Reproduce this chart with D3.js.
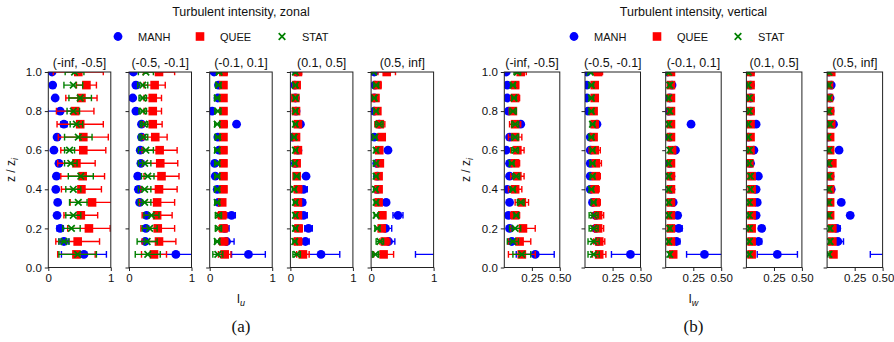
<!DOCTYPE html>
<html>
<head>
<meta charset="utf-8">
<script src="https://cdn.jsdelivr.net/npm/d3@7"></script>
<style>
  body { margin: 0; background: #fff; }
  text { font-family: "Liberation Sans", Arial, sans-serif; fill: #111; }
</style>
</head>
<body>
<div id="chart"></div>
<script>
// heights z/zi, listed top to bottom
var levels = [1.0, 0.933, 0.867, 0.8, 0.733, 0.667, 0.6, 0.533, 0.467, 0.4, 0.333, 0.267, 0.2, 0.133, 0.067];
var bins = ["(-inf, -0.5]", "(-0.5, -0.1]", "(-0.1, 0.1]", "(0.1, 0.5]", "(0.5, inf]"];
var seriesNames = ["MANH", "QUEE", "STAT"];
var yTicks = [0, 0.2, 0.4, 0.6, 0.8, 1.0];
var zonalTicks = [0, 1];
var vertTicks = [0.25, 0.5];

// zonal intensity I_u, one row per stability bin
var zonalManh = [
  [0.06,0.07,0.11,0.19,0.25,0.14,0.09,0.17,0.13,0.12,0.15,0.14,0.19,0.25,0.57],
  [0.07,0.11,0.06,0.11,0.20,0.20,0.18,0.19,0.14,0.15,0.17,0.28,0.27,0.26,0.75],
  [0.07,0.14,0.13,0.04,0.43,0.13,0.15,0.08,0.09,0.12,0.14,0.35,0.24,0.27,0.62],
  [0.10,0.07,0.08,0.09,0.16,0.03,0.12,0.08,0.25,0.21,0.19,0.21,0.29,0.24,0.49],
  [0.05,0.06,0.05,0.05,0.13,0.05,0.27,0.09,0.10,0.10,0.24,0.43,0.23,0.28,1.15]
];
var zonalManhErr = [
  [0.02,0.01,0.03,0.20,0.05,0.02,0.01,0.03,0.01,0.01,0.02,0.02,0.05,0.08,0.36],
  [0.02,0.03,0.02,0.02,0.03,0.03,0.04,0.03,0.04,0.04,0.02,0.04,0.03,0.03,0.30],
  [0.02,0.02,0.02,0.02,0.01,0.02,0.02,0.02,0.02,0.02,0.02,0.06,0.07,0.12,0.27],
  [0.02,0.01,0.01,0.01,0.02,0.01,0.02,0.01,0.01,0.06,0.04,0.06,0.06,0.06,0.30],
  [0.01,0.01,0.01,0.01,0.03,0.01,0.01,0.01,0.01,0.01,0.01,0.08,0.10,0.10,0.44]
];
var zonalQuee = [
  [0.48,0.61,0.53,0.43,0.51,0.56,0.56,0.45,0.55,0.53,0.70,0.52,0.65,0.47,0.45],
  [0.48,0.41,0.38,0.38,0.38,0.42,0.49,0.50,0.52,0.48,0.45,0.45,0.46,0.48,0.40],
  [0.22,0.22,0.22,0.22,0.22,0.22,0.22,0.22,0.22,0.22,0.20,0.20,0.22,0.22,0.24],
  [0.12,0.10,0.08,0.09,0.12,0.09,0.12,0.10,0.10,0.12,0.12,0.12,0.13,0.12,0.20],
  [0.25,0.10,0.07,0.10,0.14,0.17,0.13,0.14,0.12,0.12,0.12,0.18,0.17,0.22,0.20]
];
var zonalQueeErr = [
  [0.40,0.16,0.25,0.30,0.37,0.40,0.36,0.30,0.35,0.32,0.35,0.27,0.34,0.35,0.30],
  [0.25,0.17,0.14,0.14,0.15,0.19,0.28,0.28,0.28,0.29,0.28,0.24,0.27,0.27,0.20],
  [0.06,0.04,0.04,0.05,0.06,0.04,0.05,0.05,0.05,0.05,0.05,0.07,0.07,0.07,0.10],
  [0.06,0.05,0.03,0.03,0.04,0.03,0.04,0.03,0.05,0.06,0.05,0.05,0.06,0.06,0.10],
  [0.14,0.06,0.03,0.04,0.08,0.04,0.05,0.04,0.04,0.04,0.04,0.05,0.05,0.08,0.16]
];
var zonalStat = [
  [0.42,0.40,0.51,0.40,0.45,0.48,0.34,0.36,0.52,0.40,0.48,0.40,0.37,0.25,0.47],
  [0.27,0.22,0.22,0.22,0.24,0.23,0.27,0.25,0.30,0.25,0.25,0.36,0.33,0.29,0.30],
  [0.15,0.14,0.12,0.13,0.12,0.13,0.12,0.12,0.12,0.12,0.12,0.14,0.14,0.12,0.13],
  [0.08,0.08,0.08,0.08,0.08,0.06,0.08,0.07,0.10,0.06,0.08,0.08,0.08,0.07,0.10],
  [0.04,0.08,0.05,0.08,0.13,0.06,0.08,0.08,0.08,0.07,0.08,0.08,0.10,0.14,0.07]
];
var zonalStatErr = [
  [0.15,0.15,0.18,0.10,0.10,0.22,0.08,0.10,0.20,0.12,0.14,0.12,0.14,0.08,0.30],
  [0.12,0.08,0.06,0.06,0.06,0.07,0.12,0.10,0.10,0.10,0.10,0.12,0.12,0.16,0.20],
  [0.04,0.04,0.04,0.05,0.04,0.04,0.04,0.04,0.04,0.04,0.04,0.05,0.05,0.04,0.08],
  [0.03,0.03,0.03,0.03,0.03,0.03,0.03,0.03,0.04,0.03,0.03,0.03,0.03,0.03,0.06],
  [0.03,0.04,0.03,0.03,0.06,0.03,0.03,0.03,0.03,0.03,0.03,0.03,0.04,0.06,0.05]
];

// vertical intensity I_w
var vertManh = [
  [0.02,0.03,0.03,0.04,0.15,0.05,0.02,0.05,0.05,0.03,0.05,0.04,0.05,0.07,0.28],
  [0.02,0.02,0.02,0.03,0.11,0.05,0.05,0.05,0.05,0.05,0.07,0.10,0.10,0.12,0.41],
  [0.02,0.06,0.04,0.03,0.23,0.04,0.09,0.04,0.05,0.05,0.07,0.11,0.12,0.10,0.35],
  [0.04,0.04,0.04,0.04,0.09,0.02,0.07,0.04,0.11,0.09,0.10,0.09,0.14,0.11,0.28],
  [0.02,0.04,0.03,0.03,0.06,0.01,0.11,0.03,0.03,0.04,0.13,0.21,0.09,0.10,0.60]
];
var vertManhErr = [
  [0.01,0.01,0.01,0.01,0.01,0.01,0.01,0.01,0.01,0.01,0.01,0.01,0.01,0.03,0.17],
  [0.01,0.01,0.01,0.01,0.01,0.01,0.01,0.01,0.01,0.01,0.01,0.02,0.02,0.02,0.17],
  [0.01,0.01,0.01,0.01,0.01,0.01,0.01,0.01,0.01,0.01,0.01,0.02,0.03,0.03,0.16],
  [0.01,0.01,0.01,0.01,0.01,0.01,0.01,0.01,0.01,0.02,0.01,0.02,0.02,0.03,0.18],
  [0.01,0.01,0.01,0.01,0.01,0.01,0.01,0.01,0.01,0.01,0.01,0.02,0.03,0.05,0.21]
];
var vertQuee = [
  [0.15,0.10,0.10,0.08,0.10,0.10,0.12,0.10,0.12,0.10,0.16,0.10,0.17,0.14,0.16],
  [0.12,0.09,0.09,0.08,0.09,0.08,0.09,0.10,0.10,0.09,0.10,0.12,0.12,0.13,0.13],
  [0.05,0.05,0.05,0.05,0.05,0.05,0.06,0.05,0.05,0.05,0.05,0.05,0.05,0.05,0.07],
  [0.04,0.04,0.04,0.04,0.04,0.04,0.04,0.03,0.05,0.05,0.05,0.05,0.05,0.05,0.05],
  [0.04,0.02,0.02,0.03,0.04,0.03,0.03,0.05,0.03,0.03,0.03,0.03,0.05,0.05,0.06]
];
var vertQueeErr = [
  [0.05,0.03,0.04,0.03,0.05,0.06,0.06,0.04,0.06,0.06,0.06,0.04,0.11,0.10,0.12],
  [0.04,0.02,0.02,0.02,0.02,0.02,0.05,0.05,0.04,0.04,0.04,0.05,0.05,0.05,0.06],
  [0.01,0.01,0.01,0.01,0.01,0.01,0.01,0.01,0.01,0.01,0.01,0.01,0.02,0.02,0.02],
  [0.01,0.01,0.01,0.01,0.01,0.01,0.01,0.01,0.01,0.01,0.01,0.01,0.01,0.01,0.02],
  [0.01,0.01,0.01,0.01,0.01,0.01,0.01,0.01,0.01,0.01,0.01,0.01,0.01,0.01,0.02]
];
var vertStat = [
  [0.12,0.08,0.09,0.08,0.10,0.10,0.10,0.07,0.11,0.08,0.15,0.11,0.10,0.08,0.16],
  [0.05,0.06,0.06,0.06,0.07,0.06,0.07,0.07,0.07,0.06,0.08,0.08,0.08,0.08,0.08],
  [0.03,0.04,0.03,0.04,0.03,0.03,0.04,0.03,0.03,0.03,0.03,0.03,0.04,0.03,0.04],
  [0.02,0.02,0.03,0.03,0.02,0.02,0.03,0.03,0.04,0.04,0.03,0.03,0.03,0.03,0.03],
  [0.02,0.02,0.02,0.02,0.03,0.01,0.02,0.02,0.02,0.02,0.02,0.02,0.03,0.03,0.02]
];
var vertStatErr = [
  [0.03,0.02,0.02,0.03,0.03,0.03,0.03,0.02,0.03,0.02,0.03,0.02,0.05,0.05,0.08],
  [0.02,0.02,0.02,0.02,0.02,0.02,0.02,0.02,0.02,0.02,0.02,0.04,0.04,0.05,0.05],
  [0.01,0.01,0.01,0.01,0.01,0.01,0.01,0.01,0.01,0.01,0.01,0.01,0.01,0.01,0.01],
  [0.01,0.01,0.01,0.01,0.01,0.01,0.01,0.01,0.01,0.01,0.01,0.01,0.01,0.01,0.01],
  [0.01,0.01,0.01,0.01,0.01,0.01,0.01,0.01,0.01,0.01,0.01,0.01,0.01,0.01,0.01]
];

var colors = {MANH: "#0000ff", QUEE: "#ff0000", STAT: "#008000"};

var W = 894, H = 342;
var svg = d3.select("#chart").append("svg")
    .attr("width", W)
    .attr("height", H);

// shared vertical scale
var y = d3.scaleLinear().domain([0, 1]).range([267.5, 72]);

var panels = [
  { title: "Turbulent intensity, zonal", left: 48.3, width: 62.5, step: 80.7,
    domain: [0, 1], ticks: zonalTicks, fmt: d3.format("d"),
    data: [[zonalManh, zonalManhErr], [zonalQuee, zonalQueeErr], [zonalStat, zonalStatErr]],
    sub: "u", tag: "(a)", legendX: [118, 200, 282], ylabX: 15 },
  { title: "Turbulent intensity, vertical", left: 504.3, width: 55.5, step: 80.7,
    domain: [0.003, 0.5], ticks: vertTicks, fmt: d3.format(".2f"),
    data: [[vertManh, vertManhErr], [vertQuee, vertQueeErr], [vertStat, vertStatErr]],
    sub: "w", tag: "(b)", legendX: [574, 657, 738], ylabX: 470 }
];

function drawMarker(g, name, cx, cy) {
  if (name === "MANH") {
    g.append("circle").attr("cx", cx).attr("cy", cy).attr("r", 4.4)
      .attr("fill", colors.MANH);
  } else if (name === "QUEE") {
    g.append("rect").attr("x", cx - 4.3).attr("y", cy - 4.3)
      .attr("width", 8.6).attr("height", 8.6).attr("fill", colors.QUEE);
  } else {
    var s = 3.3;
    g.append("path")
      .attr("d", "M" + (cx - s) + "," + (cy - s) + "L" + (cx + s) + "," + (cy + s) +
                 "M" + (cx - s) + "," + (cy + s) + "L" + (cx + s) + "," + (cy - s))
      .attr("stroke", colors.STAT).attr("stroke-width", 1.7).attr("fill", "none");
  }
}

panels.forEach(function(p, pi) {
  var first = p.left, lastRight = p.left + 4 * p.step + p.width;
  var mid = (first + lastRight) / 2;

  // title
  svg.append("text")
    .attr("x", mid).attr("y", 16)
    .attr("text-anchor", "middle")
    .style("font-size", "12.5px")
    .text(p.title);

  // legend
  seriesNames.forEach(function(name, i) {
    var lg = svg.append("g");
    drawMarker(lg, name, p.legendX[i], 36.5);
    lg.append("text")
      .attr("x", p.legendX[i] + 20).attr("y", 40.5)
      .style("font-size", "11px")
      .text(name);
  });

  bins.forEach(function(bin, bi) {
    var x0 = p.left + bi * p.step;
    var x = d3.scaleLinear().domain(p.domain).range([x0, x0 + p.width]);
    var g = svg.append("g");

    var clipId = "clip" + pi + "_" + bi;
    svg.append("clipPath").attr("id", clipId)
      .append("rect")
      .attr("x", x0).attr("y", y(1))
      .attr("width", p.width).attr("height", y(0) - y(1));

    var plot = g.append("g").attr("clip-path", "url(#" + clipId + ")");

    seriesNames.forEach(function(name, si) {
      var vals = p.data[si][0][bi], errs = p.data[si][1][bi];
      var col = colors[name];
      levels.forEach(function(lv, li) {
        var v = vals[li], e = errs[li], cy = y(lv);
        var sg = plot.append("g");
        sg.append("line")
          .attr("x1", x(v - e)).attr("x2", x(v + e))
          .attr("y1", cy).attr("y2", cy)
          .attr("stroke", col).attr("stroke-width", 1.4);
        [v - e, v + e].forEach(function(c) {
          sg.append("line")
            .attr("x1", x(c)).attr("x2", x(c))
            .attr("y1", cy - 3.3).attr("y2", cy + 3.3)
            .attr("stroke", col).attr("stroke-width", 1.4);
        });
        drawMarker(sg, name, x(v), cy);
      });
    });

    // frame
    g.append("rect")
      .attr("x", x0).attr("y", y(1))
      .attr("width", p.width).attr("height", y(0) - y(1))
      .attr("fill", "none").attr("stroke", "#222").attr("stroke-width", 1);

    // axes
    var yAxis = d3.axisLeft(y).tickValues(yTicks).tickSize(3.5).tickPadding(3)
      .tickFormat(bi === 0 ? d3.format(".1f") : "");
    var ya = g.append("g").attr("transform", "translate(" + x0 + ",0)").call(yAxis);
    var xAxis = d3.axisBottom(x).tickValues(p.ticks).tickSize(3.5).tickPadding(3)
      .tickFormat(p.fmt);
    var xa = g.append("g").attr("transform", "translate(0," + y(0) + ")").call(xAxis);
    [ya, xa].forEach(function(a) {
      a.select(".domain").remove();
      a.selectAll("line").attr("stroke", "#222");
      a.selectAll("text").style("font-size", "11.5px").attr("fill", "#111")
        .style("font-family", "Liberation Sans, Arial, sans-serif");
    });

    // bin title
    g.append("text")
      .attr("x", x0 + p.width / 2).attr("y", 67)
      .attr("text-anchor", "middle")
      .style("font-size", "12.5px")
      .text(bin);
  });

  // y label
  var yl = svg.append("text")
    .attr("transform", "translate(" + p.ylabX + "," + 170 + ") rotate(-90)")
    .attr("text-anchor", "middle")
    .style("font-size", "12px");
  yl.append("tspan").text("z / z");
  yl.append("tspan").attr("dy", 3).style("font-size", "9px").style("font-style", "italic").text("i");

  // x label
  var xl = svg.append("text")
    .attr("x", mid).attr("y", 303)
    .attr("text-anchor", "middle")
    .style("font-size", "12px");
  xl.append("tspan").text("I");
  xl.append("tspan").attr("dy", 3).style("font-size", "9px").style("font-style", "italic").text(p.sub);

  // panel tag
  svg.append("text")
    .attr("x", mid).attr("y", 332)
    .attr("text-anchor", "middle")
    .style("font-family", "Liberation Serif, Times New Roman, serif")
    .style("font-size", "17px")
    .text(p.tag);
});
</script>
</body>
</html>
